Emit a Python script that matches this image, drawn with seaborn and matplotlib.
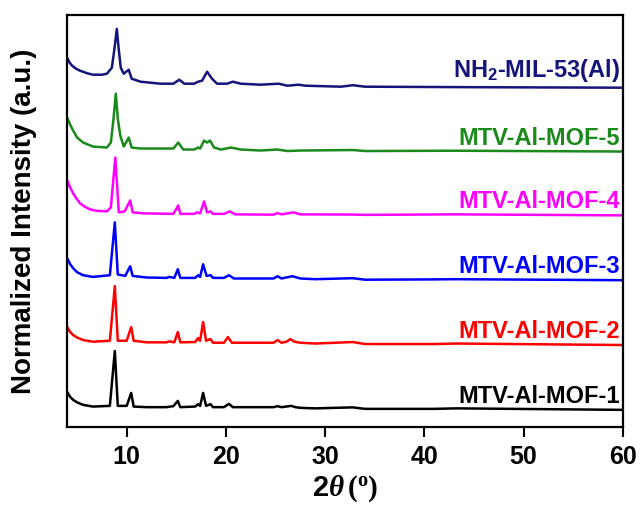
import numpy as np
import pandas as pd
import matplotlib
matplotlib.use("Agg")
import matplotlib.pyplot as plt
import seaborn as sns

# =====================
# DATA (intensity above each pattern's own baseline)
# =====================

samples = ["MTV-Al-MOF-1", "MTV-Al-MOF-2", "MTV-Al-MOF-3",
           "MTV-Al-MOF-4", "MTV-Al-MOF-5", "NH2-MIL-53(Al)"]
labels = ["MTV-Al-MOF-1", "MTV-Al-MOF-2", "MTV-Al-MOF-3",
          "MTV-Al-MOF-4", "MTV-Al-MOF-5", r"NH$_\mathbf{2}$-MIL-53(Al)"]
colors = ["#000000", "#ff0000", "#0000ff", "#ff00ff", "#1a8a1a", "#14147a"]
offsets = [17, 82, 147, 212, 276, 340]

mof1_x = [4.0, 4.3, 4.6, 5.0, 5.6, 6.6, 8.3, 8.8, 9.1, 10.0, 10.45, 10.7, 12.0, 14.0, 14.7,
          15.15, 15.4, 16.9, 17.2, 17.4, 17.7, 18.0, 18.45, 18.7, 19.8, 20.3, 20.7, 24.8, 25.2,
          25.6, 26.6, 27.0, 27.5, 29.0, 32.8, 34.0, 41.0, 43.2, 60.0]
mof1_y = [18, 13, 10, 7.5, 5, 3.3, 4, 59, 4, 4, 17, 3.3, 2.7, 2.7, 3.7,
          9, 2.7, 3.3, 5.7, 4, 17, 4, 5.7, 2.7, 2.7, 6, 2.7, 2.7, 3.7,
          2.7, 4, 2.7, 2, 1.5, 2.5, 1, 1, 1.5, 0]

mof2_x = [4.0, 4.3, 4.6, 5.0, 5.6, 6.6, 8.3, 8.8, 9.1, 10.0, 10.45, 10.7, 12.0, 14.0, 14.3,
          14.8, 15.15, 15.4, 16.9, 17.2, 17.4, 17.7, 18.0, 18.45, 18.7, 19.8, 20.2, 20.6, 24.8,
          25.2, 25.6, 26.1, 26.5, 26.9, 27.5, 29.0, 32.8, 34.0, 41.0, 43.2, 60.0]
mof2_y = [18, 13, 10, 7.5, 5, 3.3, 4.3, 59, 4.3, 4.3, 18, 4.3, 2.7, 2.7, 3.7,
          2.7, 13, 2.7, 3, 7, 4.3, 23, 4.3, 6, 2.3, 2.3, 8, 2.3, 2.3,
          5, 2.3, 3.3, 6, 3.3, 2.3, 1.5, 3, 1, 1, 1.5, 0]

mof3_x = [4.0, 4.3, 4.6, 5.0, 5.6, 6.6, 8.3, 8.8, 9.1, 9.85, 10.35, 10.6, 12.0, 14.0, 14.3,
          14.8, 15.15, 15.4, 16.9, 17.2, 17.4, 17.7, 18.05, 18.45, 18.7, 19.8, 20.3, 20.8, 24.8,
          25.2, 25.6, 26.7, 27.5, 29.0, 32.8, 34.0, 41.0, 43.2, 60.0]
mof3_y = [22, 16, 12, 8, 5, 3.3, 5, 58, 5.7, 4.3, 14, 4.3, 2.7, 2.3, 3.3,
          2.3, 11, 2.3, 2.3, 5, 3.3, 16, 4.3, 5, 2.3, 2.3, 5, 1.7, 1.7,
          4, 1.7, 4, 1.7, 1, 2, 0.5, 0.8, 1, 0]

mof4_x = [4.0, 4.3, 4.6, 5.0, 5.3, 5.8, 6.3, 7.0, 8.0, 8.4, 8.85, 9.2, 9.8, 10.35, 10.6,
          11.7, 14.7, 15.2, 15.4, 16.8, 17.1, 17.4, 17.8, 18.1, 18.45, 18.7, 19.8, 20.4, 20.95,
          24.8, 25.2, 25.6, 26.8, 27.5, 32.8, 34.0, 43.2, 60.0]
mof4_y = [35, 28, 22, 16, 12, 8.5, 6, 4.5, 4, 8, 58, 3, 4, 15, 3,
          2, 1.5, 10, 1.5, 1.5, 3, 2, 14, 3, 4, 1.5, 1.5, 4, 1,
          0.7, 2.3, 1, 3, 1, 0.8, 0.5, 1, 0]

mof5_x = [4.0, 4.3, 4.6, 5.0, 5.6, 6.6, 8.0, 8.4, 8.65, 8.9, 9.1, 9.35, 9.7, 10.2, 10.5,
          11.4, 14.7, 15.2, 15.7, 16.8, 17.2, 17.4, 17.8, 18.1, 18.4, 18.8, 19.5, 20.5, 21.5,
          23.5, 25.2, 26.2, 27.5, 32.8, 34.0, 43.2, 60.0]
mof5_y = [34, 27, 21, 14, 9, 5, 4, 9, 31, 58, 33, 16, 5, 14, 4,
          3, 3, 9, 2, 2, 4, 3, 11, 9, 11, 4, 2, 4, 2,
          1, 2, 0.5, 1, 1.5, 0.5, 0.8, 0]

nh2_x = [4.0, 4.25, 4.5, 4.9, 5.3, 6.0, 6.6, 7.5, 8.0, 8.5, 8.75, 9.0, 9.2, 9.4, 9.7,
         10.2, 10.5, 11.4, 13.4, 14.7, 15.3, 15.8, 16.8, 17.2, 17.6, 18.1, 18.6, 19.1, 20.1,
         20.7, 21.5, 23.5, 25.3, 26.2, 27.3, 28.0, 31.6, 32.8, 34.0, 45.0, 60.0]
nh2_y = [30, 25, 22, 19, 17, 14.5, 13, 13, 14, 20, 38, 59, 38, 20, 14,
         18, 9, 6, 4, 4, 8, 4, 4, 6, 7, 16, 9, 4, 4,
         6, 4, 3, 4, 2, 3, 2, 1, 2.5, 1, 0.5, 0]

all_x = [mof1_x, mof2_x, mof3_x, mof4_x, mof5_x, nh2_x]
all_y = [mof1_y, mof2_y, mof3_y, mof4_y, mof5_y, nh2_y]

# build long table, shift every pattern up by its offset
frames = []
for name, xs, ys, off in zip(samples, all_x, all_y, offsets):
    frames.append(pd.DataFrame({
        "two_theta": xs,
        "intensity": np.array(ys) + off,
        "sample": name,
    }))
xrd = pd.concat(frames, ignore_index=True)

# =====================
# PLOT
# =====================

sns.set_style("ticks")
plt.rcParams["font.family"] = ["Liberation Sans", "DejaVu Sans"]
plt.rcParams["font.weight"] = "bold"
plt.rcParams["text.color"] = "black"
plt.rcParams["axes.labelcolor"] = "black"
plt.rcParams["xtick.color"] = "black"
plt.rcParams["mathtext.fontset"] = "custom"
plt.rcParams["mathtext.rm"] = "Liberation Serif"
plt.rcParams["mathtext.it"] = "Liberation Serif:italic"
plt.rcParams["mathtext.bf"] = "Liberation Sans:bold"

fig = plt.figure(figsize=(6.4, 5.13), dpi=100)
ax = fig.add_axes([0.105, 0.168, 0.868, 0.803])

sns.lineplot(data=xrd, x="two_theta", y="intensity", hue="sample",
             palette=dict(zip(samples, colors)), estimator=None, sort=False,
             linewidth=1.8, legend=False, ax=ax)

for lab, col, off in zip(labels, colors, offsets):
    dy = 11 if lab.startswith("NH") else 7
    ax.text(59.7, off + dy, lab, color=col, ha="right", va="baseline",
            fontsize=17, fontweight="bold")

ax.set_xlim(4, 60)
ax.set_ylim(0, 413)
ax.set_xticks([10, 20, 30, 40, 50, 60])
ax.set_yticks([])
ax.tick_params(axis="x", direction="out", length=7, width=1.5, labelsize=18, pad=6)
for lbl in ax.get_xticklabels():
    lbl.set_fontweight("bold")
for sp in ax.spines.values():
    sp.set_linewidth(1.6)
    sp.set_color("black")

ax.set_xlabel(r"$\mathbf{2}\mathit{\theta}\,\mathrm{(^o)}$", fontsize=21, labelpad=3)
ax.set_ylabel("Normalized Intensity (a.u.)", fontsize=20, fontweight="bold", labelpad=22)

plt.savefig("out.png", dpi=100)
